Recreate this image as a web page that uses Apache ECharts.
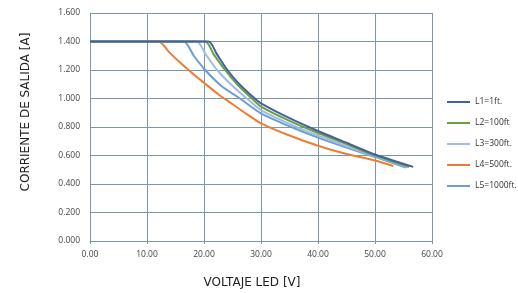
<!DOCTYPE html>
<html>
<head>
<meta charset="utf-8">
<script src="https://cdn.jsdelivr.net/npm/echarts@6/dist/echarts.min.js"></script>
<style>
  html, body { margin: 0; padding: 0; background: #fff; }
  #chart { width: 518px; height: 293px; }
</style>
</head>
<body>
<div id="chart"></div>
<script>
// curvas: [voltaje, corriente]
const seriesNames = ["L1=1ft.", "L2=100ft", "L3=300ft.", "L4=500ft.", "L5=1000ft."];
const seriesColors = ["#3f62a2", "#6c9e3e", "#9dbde2", "#ee7d34", "#6d9bd3"];
const L1 = [[0, 1.4], [20.8, 1.4], [22.2, 1.315], [24.1, 1.2], [26, 1.11], [28.9, 1.0], [30, 0.966], [35, 0.862], [40, 0.772], [45, 0.69], [50, 0.607], [56.7, 0.52]];
const L2 = [[0, 1.4], [20.2, 1.4], [21.7, 1.31], [23.7, 1.2], [25.8, 1.1], [28.4, 1.0], [30, 0.943], [35, 0.843], [40, 0.758], [45, 0.68], [50, 0.6], [56.0, 0.52]];
const L3 = [[0, 1.4], [18.7, 1.4], [20.3, 1.31], [22.3, 1.2], [24.7, 1.1], [27.5, 1.0], [30, 0.919], [35, 0.822], [40, 0.74], [45, 0.665], [50, 0.595], [55.8, 0.518]];
const L4 = [[0, 1.4], [12.0, 1.4], [14, 1.32], [16, 1.245], [18, 1.175], [20, 1.11], [22.5, 1.03], [25, 0.96], [27.5, 0.89], [30, 0.826], [35, 0.74], [40, 0.668], [45, 0.61], [50, 0.565], [53.2, 0.526]];
const L5 = [[0, 1.4], [16.4, 1.4], [18.2, 1.3], [20.2, 1.2], [23, 1.09], [26.3, 1.0], [30, 0.896], [35, 0.805], [40, 0.725], [45, 0.655], [50, 0.59], [55.4, 0.515]];
const curves = [L1, L2, L3, L4, L5];
// orden de dibujo (L1 encima)
const drawOrder = [3, 4, 2, 1, 0];

const gridColor = "#7b99a4";
const chart = echarts.init(document.getElementById("chart"));

chart.setOption({
  animation: false,
  grid: { left: 90, right: 86, top: 13, bottom: 52 },
  legend: {
    orient: "vertical",
    left: 442,
    top: 91,
    itemWidth: 23,
    itemHeight: 2,
    itemGap: 9,
    icon: "rect",
    data: seriesNames,
    textStyle: { fontSize: 8.5, color: "#333", fontFamily: "Open Sans", lineHeight: 12 }
  },
  xAxis: {
    type: "value",
    min: 0,
    max: 60,
    interval: 10,
    axisLine: { lineStyle: { color: gridColor } },
    axisTick: { show: true, length: 3, lineStyle: { color: gridColor } },
    splitLine: { lineStyle: { color: gridColor } },
    axisLabel: {
      margin: 9,
      fontSize: 8.5,
      color: "#444",
      fontFamily: "Open Sans",
      formatter: (v) => v.toFixed(2)
    }
  },
  yAxis: {
    type: "value",
    min: 0,
    max: 1.6,
    interval: 0.2,
    axisLine: { show: true, lineStyle: { color: gridColor } },
    axisTick: { show: false },
    splitLine: { lineStyle: { color: gridColor } },
    axisLabel: {
      margin: 10,
      fontSize: 8.5,
      color: "#444",
      fontFamily: "Open Sans",
      formatter: (v) => v.toFixed(3)
    }
  },
  graphic: [
    {
      type: "text",
      x: 26,
      y: 112,
      rotation: Math.PI / 2,
      style: {
        text: "CORRIENTE DE SALIDA [A]",
        fontSize: 12,
        fontFamily: "DejaVu Sans",
        fill: "#222",
        align: "center",
        verticalAlign: "middle"
      }
    },
    {
      type: "text",
      x: 252,
      y: 283,
      style: {
        text: "VOLTAJE LED [V]",
        fontSize: 12,
        fontFamily: "DejaVu Sans",
        fill: "#222",
        align: "center",
        verticalAlign: "middle"
      }
    }
  ],
  series: drawOrder.map((i) => ({
    name: seriesNames[i],
    type: "line",
    data: curves[i],
    smooth: 0.25,
    showSymbol: false,
    z: 10 - i,
    lineStyle: { width: 2, color: seriesColors[i] },
    itemStyle: { color: seriesColors[i] }
  }))
});
</script>
</body>
</html>
